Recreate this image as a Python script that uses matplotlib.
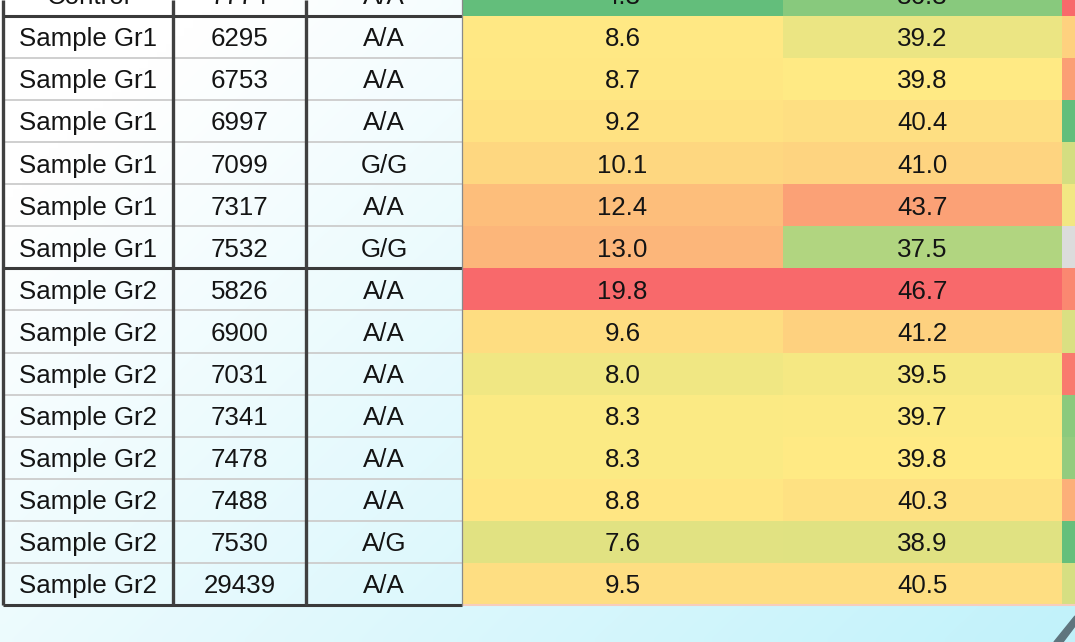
import numpy as np
import matplotlib
matplotlib.use("Agg")
import matplotlib.pyplot as plt
from matplotlib.colors import LinearSegmentedColormap, TwoSlopeNorm
from matplotlib.patches import Polygon

# ---------------- data ----------------
groups = ["Control"] + ["Sample Gr1"] * 6 + ["Sample Gr2"] * 8
sample_ids = ["7774", "6295", "6753", "6997", "7099", "7317", "7532",
              "5826", "6900", "7031", "7341", "7478", "7488", "7530", "29439"]
genotypes = ["A/A", "A/A", "A/A", "A/A", "G/G", "A/A", "G/G",
             "A/A", "A/A", "A/A", "A/A", "A/A", "A/A", "A/G", "A/A"]
value_a = [4.3, 8.6, 8.7, 9.2, 10.1, 12.4, 13.0,
           19.8, 9.6, 8.0, 8.3, 8.3, 8.8, 7.6, 9.5]
value_b = [36.3, 39.2, 39.8, 40.4, 41.0, 43.7, 37.5,
           46.7, 41.2, 39.5, 39.7, 39.8, 40.3, 38.9, 40.5]
# third metric: only its colour is visible (cut off at the right edge), estimated
value_c = [100, 60, 79, 0, 36, 46, np.nan,
           88, 38, 93, 13, 16, 73, 1, 37]

# ---------------- layout ----------------
W, H = 1075, 642
ROW_PX = 42.07
TOP_PX = 16.0            # pixel y of the bottom of the first (cut) row
n = len(groups)

def py(px):              # pixel y -> row units
    return 1 + (px - TOP_PX) / ROW_PX

fig = plt.figure(figsize=(W / 100, H / 100), dpi=100)
ax = fig.add_axes([0, 0, 1, 1])
ax.set_xlim(0, W)
ax.set_ylim(py(H), py(0))
ax.axis("off")

# background gradient (white -> light cyan)
gx = np.linspace(0, W, 120)
gy = np.linspace(0, H, 80)
XX, YY = np.meshgrid(gx, gy)
t = np.clip(0.000567 * XX + 0.0006 * YY - 0.123, 0, 1)[..., None]
cyan = np.array([184, 240, 250]) / 255.0
img = (1 - t) * np.ones(3) + t * cyan
ax.imshow(img, extent=(0, W, py(H), py(0)), origin="upper",
          aspect="auto", interpolation="bilinear", zorder=0)

# column edges (pixels)
col_edges = [3, 173, 306, 462, 783, 1062, 1360]

# colour scale (Excel style 3-colour)
cmap = LinearSegmentedColormap.from_list(
    "gyr", ["#63BE7B", "#FFEB84", "#F8696B"])
cols_num = [
    (value_a, TwoSlopeNorm(vmin=4.3, vcenter=8.4, vmax=19.8), 3),
    (value_b, TwoSlopeNorm(vmin=35.2, vcenter=39.8, vmax=46.7), 4),
    (value_c, TwoSlopeNorm(vmin=0, vcenter=50, vmax=100), 5),
]
rows = np.arange(n)
for vals, norm, ci in cols_num:
    arr = np.array(vals, dtype=float)
    colors = [("#DCDCDC" if np.isnan(v) else cmap(norm(v))) for v in arr]
    left = col_edges[ci]
    width = col_edges[ci + 1] - left
    ax.barh(rows + 0.5, width, left=left, height=1.0, color=colors,
            edgecolor="none", zorder=1)

# faint border under the heat columns
ax.plot([col_edges[3], W], [n, n], color="#F6CDBD", lw=1.5, zorder=2,
        solid_capstyle="butt")

# grid lines of the left block
for b in range(1, n + 1):
    if b in (1, 7, n):
        ax.plot([col_edges[0], col_edges[3]], [b, b], color="#3a3a3a",
                lw=2.2, zorder=3, solid_capstyle="butt")
    else:
        ax.plot([col_edges[0], col_edges[3]], [b, b], color="#cfcfcf",
                lw=1.4, zorder=3, solid_capstyle="butt")
for xe in col_edges[:3]:
    ax.plot([xe, xe], [py(0), n], color="#404040", lw=2.4, zorder=3,
            solid_capstyle="butt")
ax.plot([col_edges[3], col_edges[3]], [py(0), n], color="#8a8a8a", lw=0.9,
        zorder=3)

# cell texts
text_kw = dict(ha="center", va="baseline", fontsize=18.6,
               family=["Liberation Sans", "DejaVu Sans"], color="#141414",
               zorder=4)
base_off = 9.3 / ROW_PX
centers = [(col_edges[i] + col_edges[i + 1]) / 2 for i in range(5)]
for k in range(n):
    yb = k + 0.5 + base_off
    ax.text(centers[0], yb, groups[k], **text_kw)
    ax.text(centers[1], yb, sample_ids[k], **text_kw)
    ax.text(centers[2], yb, genotypes[k], **text_kw)
    ax.text(centers[3], yb, f"{value_a[k]:.1f}", **text_kw)
    ax.text(centers[4], yb, f"{value_b[k]:.1f}", **text_kw)

# window resize grip in the lower-right corner
grip = Polygon([(1054, py(642)), (1075, py(616)), (1075, py(626)),
                (1063, py(642))], closed=True, color="#5f757e", zorder=5)
ax.add_patch(grip)

fig.savefig("out.png", dpi=100)
